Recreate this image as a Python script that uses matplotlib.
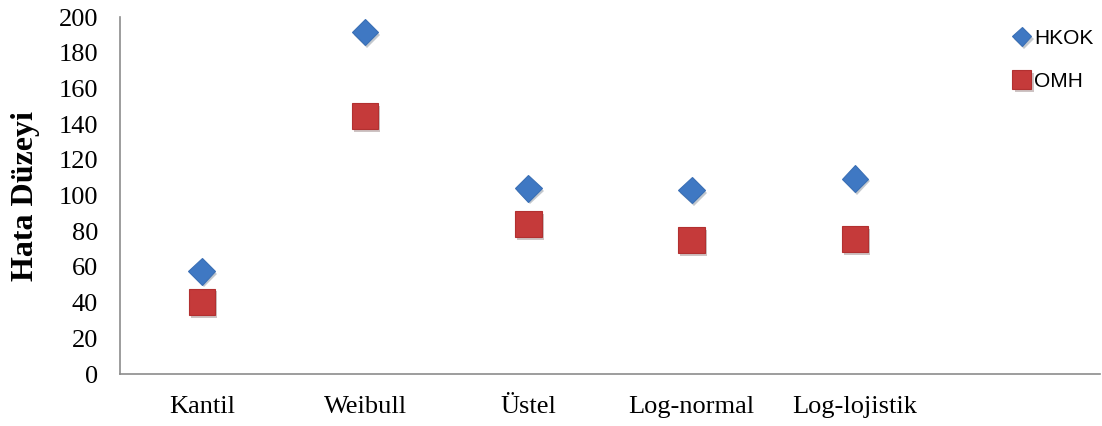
import numpy as np
import matplotlib
matplotlib.use("Agg")
import matplotlib.pyplot as plt
import matplotlib.patheffects as pe

# data
categories = ["Kantil", "Weibull", "Üstel", "Log-normal", "Log-lojistik"]
hkok = [57.5, 191.5, 104, 103, 109.5]
omh = [40.5, 144.5, 84, 75, 75.5]

fig = plt.figure(figsize=(11.02, 4.26), dpi=100)
ax = fig.add_axes([0.109, 0.122, 0.889, 0.838])

x = np.arange(1, len(categories) + 1)
shadow = [pe.SimplePatchShadow(offset=(1.5, -2), alpha=0.25), pe.Normal()]

ax.plot(x, hkok, linestyle="none", marker="D", markersize=13.5,
        markerfacecolor="#3f78c3", markeredgecolor="#3a6fb5", markeredgewidth=0.8,
        label="HKOK", path_effects=shadow, zorder=3)
ax.plot(x, omh, linestyle="none", marker="s", markersize=19,
        markerfacecolor="#c53a3a", markeredgecolor="#b23030", markeredgewidth=0.8,
        label="OMH", path_effects=shadow, zorder=3)

ax.set_xlim(0.5, 6.5)
ax.set_ylim(0, 200)
ax.set_yticks(np.arange(0, 201, 20))
ax.set_xticks(x)
ax.set_xticklabels(categories)
ax.tick_params(length=0, labelsize=19)
ax.tick_params(axis="y", pad=16)
ax.tick_params(axis="x", pad=16)
for lab in ax.get_xticklabels() + ax.get_yticklabels():
    lab.set_family("Liberation Serif")

for s in ["top", "right"]:
    ax.spines[s].set_visible(False)
for s in ["left", "bottom"]:
    ax.spines[s].set_color("#8c8c8c")
    ax.spines[s].set_linewidth(1.2)

ax.set_ylabel("Hata Düzeyi", family="Liberation Serif", fontweight="bold",
              fontsize=23, labelpad=13)

leg = ax.legend(loc="upper left", bbox_to_anchor=(0.895, 1.02), frameon=False,
                prop={"family": "Liberation Sans", "size": 15},
                handlelength=0.6, handletextpad=0.3, labelspacing=1.15,
                markerscale=0.72)

fig.savefig("out.png", dpi=100)
